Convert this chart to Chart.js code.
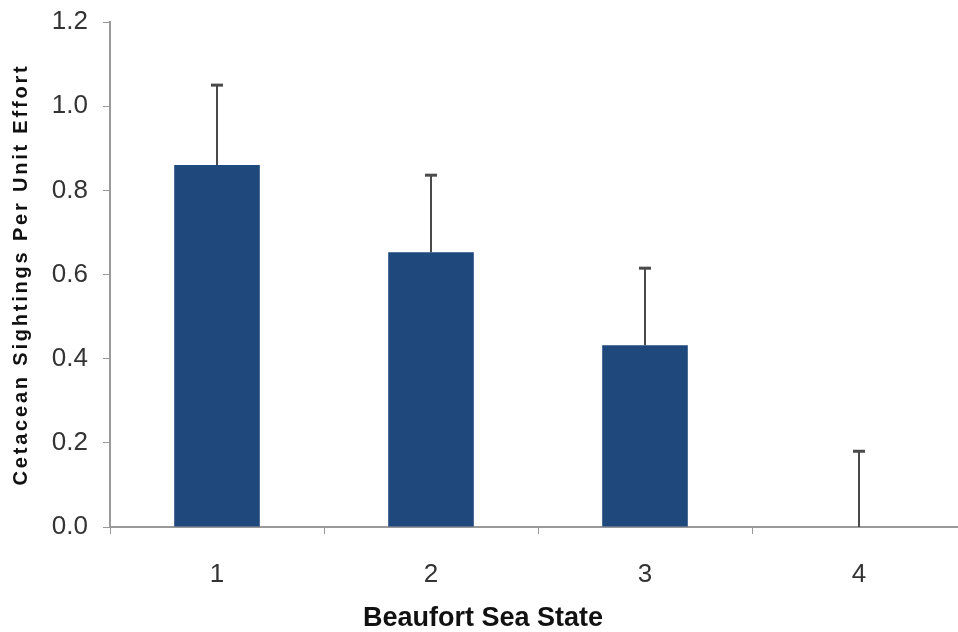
<!DOCTYPE html>
<html>
<head>
<meta charset="utf-8">
<script src="https://cdn.jsdelivr.net/npm/chart.js@4"></script>
<style>
  html, body { margin: 0; padding: 0; background: #fff; }
  #wrap { width: 958px; height: 632px; overflow: hidden; }
</style>
</head>
<body>
<div id="wrap">
  <canvas id="chart" width="968" height="632"></canvas>
</div>
<script>
// data
const seaStates = ['1', '2', '3', '4'];
const sightings = [0.86, 0.653, 0.432, 0];
const errorTop = [1.05, 0.836, 0.615, 0.18];
const yTicks = [0, 0.2, 0.4, 0.6, 0.8, 1.0, 1.2];

const fontFamily = '"Liberation Sans", Arial, sans-serif';

// draws the upper error whiskers with the chart's own scales
const errorBars = {
  id: 'errorBars',
  afterDatasetsDraw(chart) {
    const ctx = chart.ctx;
    const yScale = chart.scales.y;
    const meta = chart.getDatasetMeta(0);
    ctx.save();
    ctx.strokeStyle = '#4a4a4a';
    meta.data.forEach((bar, i) => {
      const top = yScale.getPixelForValue(errorTop[i]);
      ctx.lineWidth = 2;
      ctx.beginPath();
      ctx.moveTo(bar.x, bar.y);
      ctx.lineTo(bar.x, top);
      ctx.stroke();
      ctx.lineWidth = 3;
      ctx.beginPath();
      ctx.moveTo(bar.x - 6, top);
      ctx.lineTo(bar.x + 6, top);
      ctx.stroke();
    });
    ctx.restore();
  }
};

new Chart(document.getElementById('chart'), {
  type: 'bar',
  data: {
    labels: seaStates,
    datasets: [{
      data: sightings,
      backgroundColor: '#1f497d',
      categoryPercentage: 1,
      barPercentage: 0.4
    }]
  },
  options: {
    responsive: false,
    animation: false,
    layout: { padding: { top: 22, right: 2, left: 0, bottom: 0 } },
    plugins: {
      legend: { display: false },
      tooltip: { enabled: false },
      // x axis title sits centred on the whole figure, so use the title plugin
      title: {
        display: true,
        position: 'bottom',
        text: 'Beaufort Sea State',
        color: '#111',
        font: { family: fontFamily, size: 27, weight: 'bold', lineHeight: 1 },
        padding: { top: 0, bottom: 0 }
      }
    },
    scales: {
      x: {
        grid: { display: true, drawOnChartArea: false, offset: true, color: '#999', tickLength: 7, tickWidth: 1 },
        border: { color: '#999', width: 2 },
        ticks: { color: '#333', font: { family: fontFamily, size: 26 }, padding: 25 },
        afterFit(scale) { scale.height = 78; }
      },
      y: {
        min: 0,
        max: 1.2,
        afterBuildTicks(scale) { scale.ticks = yTicks.map(v => ({ value: v })); },
        grid: { display: true, drawOnChartArea: false, color: '#999', tickLength: 7 },
        border: { color: '#999', width: 2 },
        ticks: {
          color: '#333',
          font: { family: fontFamily, size: 26 },
          padding: 15,
          callback: v => Number(v).toFixed(1)
        },
        title: {
          display: true,
          text: 'Cetacean Sightings Per Unit Effort',
          color: '#111',
          font: { family: fontFamily, size: 20, weight: 'bold' },
          padding: { top: 9, bottom: 0 }
        },
        afterFit(scale) {
          scale.width = 110;
          scale.paddingTop = 0;
          scale.paddingBottom = 0;
          // the original title is drawn wide, so space the letters out
          if (!scale._spaced) {
            const draw = scale.drawTitle;
            scale.drawTitle = function () {
              this.ctx.save();
              this.ctx.letterSpacing = '2.8px';
              draw.call(this);
              this.ctx.restore();
            };
            scale._spaced = true;
          }
        }
      }
    }
  },
  plugins: [errorBars]
});
</script>
</body>
</html>
